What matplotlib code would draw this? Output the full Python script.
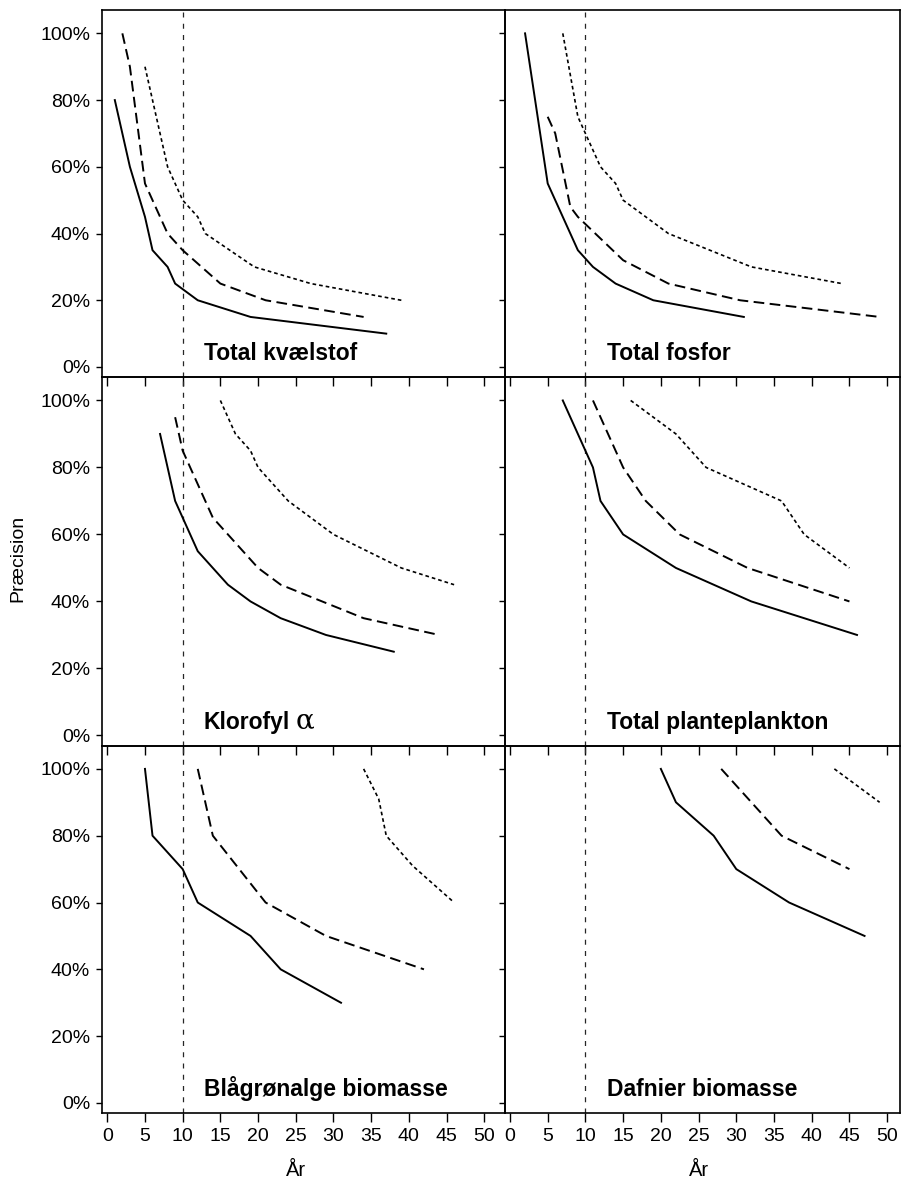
import matplotlib
matplotlib.use("Agg")
import matplotlib.pyplot as plt
from matplotlib import transforms

plt.rcParams["font.family"] = ["Liberation Sans", "DejaVu Sans"]

# x = years (År), y = precision in %
# line order per panel: solid, dashed, short-dashed

tn_solid_x = [1, 3, 5, 6, 8, 9, 12, 19, 37]
tn_solid_y = [80, 60, 45, 35, 30, 25, 20, 15, 10]
tn_dash_x = [2, 3, 5, 8, 10, 15, 21, 34]
tn_dash_y = [100, 90, 55, 40, 35, 25, 20, 15]
tn_dot_x = [5, 8, 10, 12, 13, 19.5, 27, 39]
tn_dot_y = [90, 60, 50, 45, 40, 30, 25, 20]

tp_solid_x = [2, 5, 9, 11, 14, 19, 31]
tp_solid_y = [100, 55, 35, 30, 25, 20, 15]
tp_dash_x = [5, 6, 8, 9, 15, 21, 30.5, 49]
tp_dash_y = [75, 70, 48, 45, 32, 25, 20, 15]
tp_dot_x = [7, 9, 10, 12, 14, 15, 21, 32, 44]
tp_dot_y = [100, 75, 70, 60, 55, 50, 40, 30, 25]

chl_solid_x = [7, 9, 12, 16, 19, 23, 29, 38]
chl_solid_y = [90, 70, 55, 45, 40, 35, 30, 25]
chl_dash_x = [9, 10, 14, 20, 23, 34, 44]
chl_dash_y = [95, 85, 65, 50, 45, 35, 30]
chl_dot_x = [15, 17, 19, 20, 24, 30, 39, 46]
chl_dot_y = [100, 90, 85, 80, 70, 60, 50, 45]

phy_solid_x = [7, 11, 12, 15, 22, 32, 46]
phy_solid_y = [100, 80, 70, 60, 50, 40, 30]
phy_dash_x = [11, 15, 18, 22.5, 31.5, 45]
phy_dash_y = [100, 80, 70, 60, 50, 40]
phy_dot_x = [16, 22, 26, 36, 39, 45]
phy_dot_y = [100, 90, 80, 70, 60, 50]

cya_solid_x = [5, 6, 10, 12, 19, 23, 31]
cya_solid_y = [100, 80, 70, 60, 50, 40, 30]
cya_dash_x = [12, 14, 21, 29, 42]
cya_dash_y = [100, 80, 60, 50, 40]
cya_dot_x = [34, 36, 37, 40.5, 46]
cya_dot_y = [100, 91, 80, 71, 60]

daf_solid_x = [20, 22, 27, 30, 37, 47]
daf_solid_y = [100, 90, 80, 70, 60, 50]
daf_dash_x = [28, 36, 45]
daf_dash_y = [100, 80, 70]
daf_dot_x = [43, 49]
daf_dot_y = [100, 90]

titles = ["Total kvælstof", "Total fosfor", "Klorofyl", "Total planteplankton",
          "Blågrønalge biomasse", "Dafnier biomasse"]
x_ticks = list(range(0, 51, 5))
y_ticks = [0, 20, 40, 60, 80, 100]
y_tick_labels = ["0%", "20%", "40%", "60%", "80%", "100%"]

panels = [
    ((tn_solid_x, tn_solid_y), (tn_dash_x, tn_dash_y), (tn_dot_x, tn_dot_y)),
    ((tp_solid_x, tp_solid_y), (tp_dash_x, tp_dash_y), (tp_dot_x, tp_dot_y)),
    ((chl_solid_x, chl_solid_y), (chl_dash_x, chl_dash_y), (chl_dot_x, chl_dot_y)),
    ((phy_solid_x, phy_solid_y), (phy_dash_x, phy_dash_y), (phy_dot_x, phy_dot_y)),
    ((cya_solid_x, cya_solid_y), (cya_dash_x, cya_dash_y), (cya_dot_x, cya_dot_y)),
    ((daf_solid_x, daf_solid_y), (daf_dash_x, daf_dash_y), (daf_dot_x, daf_dot_y)),
]

# layout in pixels of the 901x1182 canvas
W, H = 901, 1182
COLS = [(102, 505, (-0.7, 52.75)), (505, 900, (-0.66, 51.7))]
ROWS = [(10, 377), (377, 745.5), (745.5, 1113)]

fig = plt.figure(figsize=(W / 100, H / 100), dpi=100)

for i, (solid, dash, dot) in enumerate(panels):
    r, c = divmod(i, 2)
    x0, x1, xlim = COLS[c]
    y0, y1 = ROWS[r]
    ax = fig.add_axes([x0 / W, 1 - y1 / H, (x1 - x0) / W, (y1 - y0) / H])
    ax.patch.set_visible(False)

    ax.axvline(10, color="0.15", lw=0.9, linestyle=(0, (4, 5)))
    ax.plot(*solid, color="black", lw=1.4)
    ax.plot(*dash, color="black", lw=1.4, linestyle=(0, (5.5, 2.8)))
    ax.plot(*dot, color="black", lw=1.2, linestyle=(0, (2.2, 1.8)))

    ax.set_xlim(*xlim)
    ax.set_ylim(-3, 107)
    ax.set_xticks(x_ticks)
    ax.set_yticks(y_ticks)
    ax.tick_params(axis="x", direction="out", length=6.5, width=1, labelsize=14, pad=4)
    ax.tick_params(axis="y", direction="out", length=4.5, width=1, labelsize=14, pad=4)
    if c == 0:
        ax.set_yticklabels(y_tick_labels)
    else:
        ax.set_yticklabels([])
    if r < 2:
        ax.set_xticklabels([])
    else:
        tr = transforms.blended_transform_factory(ax.transData, fig.transFigure)
        ax.text(25, 1 - 1170 / H, "År", transform=tr, ha="center", va="center", fontsize=14.5)
    for sp in ax.spines.values():
        sp.set_linewidth(1.2)

    ax.text(12.8, 2, titles[i], fontsize=16.5, fontweight="bold", va="baseline", ha="left")
    if i == 2:
        ax.text(25.0, 2, "α", fontsize=20, family="DejaVu Serif", va="baseline", ha="left")

fig.text(18 / W, 1 - 558 / H, "Præcision", rotation=90, ha="center", va="center", fontsize=14)

fig.savefig("out.png", dpi=100)
